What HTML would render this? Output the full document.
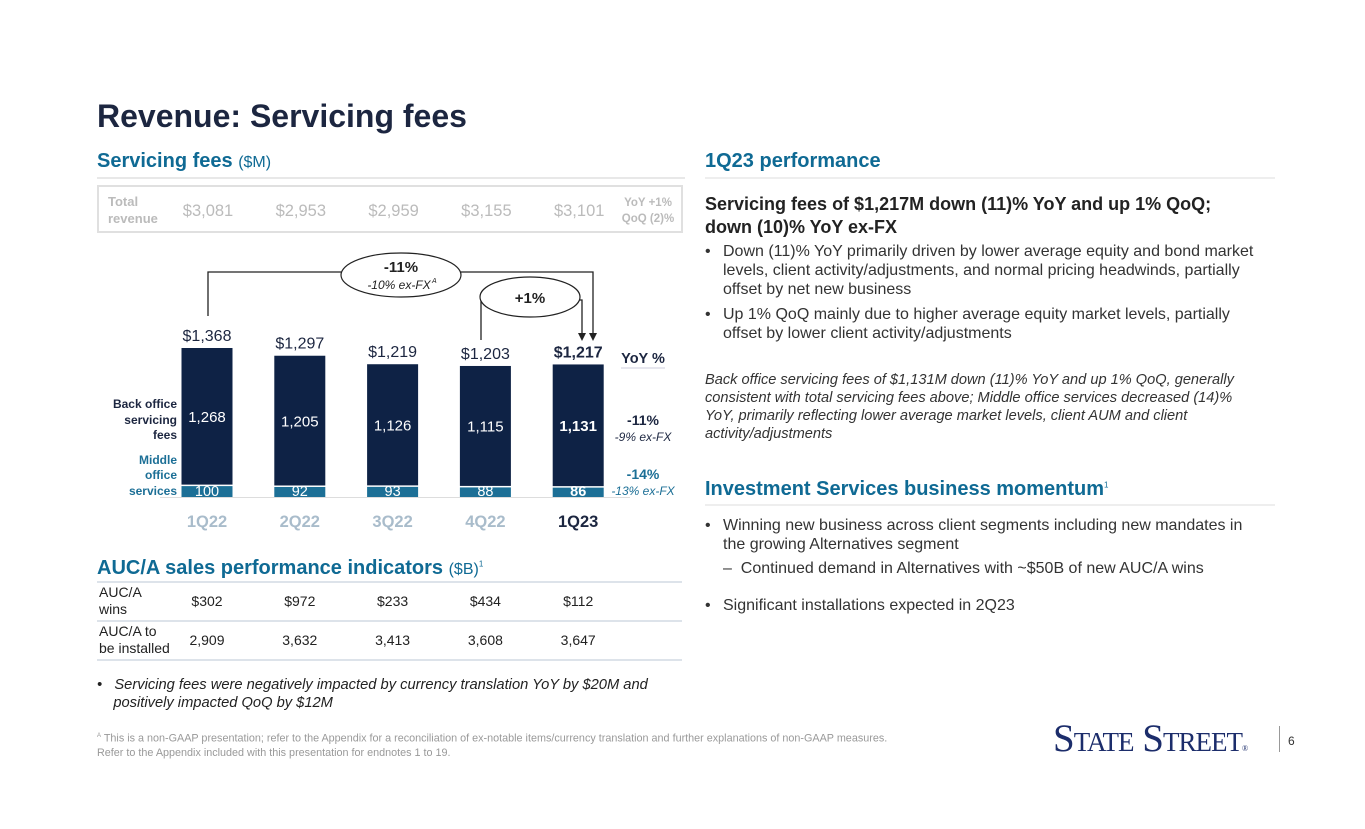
<!DOCTYPE html>
<html><head><meta charset="utf-8">
<style>
*{margin:0;padding:0;box-sizing:border-box}
body{width:1365px;height:829px;background:#fff;font-family:"Liberation Sans",sans-serif;position:relative;overflow:hidden;color:#222}
.a{position:absolute;white-space:nowrap}
.h2{color:#0f6a94;font-weight:bold;font-size:20px}
.rt{font-size:16px;color:#333;line-height:19px}
.bl{position:absolute;left:705px}
.bl span.d{position:absolute;left:0}
.bl div{padding-left:18px}
</style></head><body>
<div class="a" style="left:97px;top:98px;font-size:32px;font-weight:bold;color:#1c2640">Revenue: Servicing fees</div>

<div class="a h2" style="left:97px;top:150px">Servicing fees <span style="font-weight:normal;font-size:16px">($M)</span></div>
<div class="a" style="left:97px;top:177px;width:588px;height:2px;background:#e8e8e8"></div>

<div class="a" style="left:97px;top:185px;width:586px;height:48px;border:2px solid #e0e0e0"></div>
<div class="a" style="left:108px;top:193px;font-size:13px;font-weight:bold;color:#bbb;line-height:17px">Total<br>revenue</div>

<svg class="a" style="left:0;top:0" width="1365" height="829" id="chart"></svg>

<div class="a h2" style="left:97px;top:557px">AUC/A sales performance indicators <span style="font-weight:normal;font-size:16px">($B)</span><sup style="font-size:8px;font-weight:normal">1</sup></div>
<div class="a" style="left:97px;top:581px;width:585px;height:2px;background:#dde3ea"></div>
<div class="a" style="left:97px;top:620px;width:585px;height:2px;background:#dde3ea"></div>
<div class="a" style="left:97px;top:659px;width:585px;height:2px;background:#dde3ea"></div>
<div class="a" style="left:99px;top:584px;font-size:14px;line-height:17px;color:#222">AUC/A<br>wins</div>
<div class="a" style="left:99px;top:623px;font-size:14px;line-height:17px;color:#222">AUC/A to<br>be installed</div>

<div class="a" style="left:97px;top:676px;font-size:14.7px;font-style:italic;line-height:18px;color:#222">•&nbsp;&nbsp;&nbsp;Servicing fees were negatively impacted by currency translation YoY by $20M and<br>&nbsp;&nbsp;&nbsp;&nbsp;positively impacted QoQ by $12M</div>
<div class="a" style="left:97px;top:729px;font-size:10.8px;line-height:14px;color:#999"><sup style="font-size:6px">A</sup> This is a non-GAAP presentation; refer to the Appendix for a reconciliation of ex-notable items/currency translation and further explanations of non-GAAP measures.<br>Refer to the Appendix included with this presentation for endnotes 1 to 19.</div>

<div class="a h2" style="left:705px;top:150px">1Q23 performance</div>
<div class="a" style="left:705px;top:177px;width:570px;height:2px;background:#eee"></div>
<div class="a" style="left:705px;top:193px;font-size:18px;font-weight:bold;line-height:23px;color:#222">Servicing fees of $1,217M down (11)% YoY and up 1% QoQ;<br>down (10)% YoY ex-FX</div>
<div class="bl rt" style="top:242px"><span class="d">•</span><div>Down (11)% YoY primarily driven by lower average equity and bond market<br>levels, client activity/adjustments, and normal pricing headwinds, partially<br>offset by net new business</div></div>
<div class="bl rt" style="top:305px"><span class="d">•</span><div>Up 1% QoQ mainly due to higher average equity market levels, partially<br>offset by lower client activity/adjustments</div></div>
<div class="a" style="left:705px;top:371px;font-size:14.6px;font-style:italic;line-height:18px;color:#333">Back office servicing fees of $1,131M down (11)% YoY and up 1% QoQ, generally<br>consistent with total servicing fees above; Middle office services decreased (14)%<br>YoY, primarily reflecting lower average market levels, client AUM and client<br>activity/adjustments</div>

<div class="a h2" style="left:705px;top:478px">Investment Services business momentum<sup style="font-size:8px;font-weight:normal">1</sup></div>
<div class="a" style="left:705px;top:504px;width:570px;height:2px;background:#eee"></div>
<div class="bl rt" style="top:516px"><span class="d">•</span><div>Winning new business across client segments including new mandates in<br>the growing Alternatives segment</div></div>
<div class="a rt" style="left:723px;top:559px">–&nbsp;&nbsp;Continued demand in Alternatives with ~$50B of new AUC/A wins</div>
<div class="bl rt" style="top:596px"><span class="d">•</span><div>Significant installations expected in 2Q23</div></div>

<div class="a" style="left:1053px;top:716px;font-family:'Liberation Serif',serif;font-size:39px;color:#1c2d6b;font-variant:small-caps;letter-spacing:-1px">State Street<span style="font-size:8px">®</span></div>
<div class="a" style="left:1279px;top:726px;width:1px;height:26px;background:#999"></div>
<div class="a" style="left:1288px;top:734px;font-size:12px;color:#333">6</div>

<script>
const quarters=["1Q22","2Q22","3Q22","4Q22","1Q23"];
const totalRevenue=["$3,081","$2,953","$2,959","$3,155","$3,101"];
const backOffice=[1268,1205,1126,1115,1131];
const middleOffice=[100,92,93,88,86];
const totals=[1368,1297,1219,1203,1217];
const aucWins=["$302","$972","$233","$434","$112"];
const aucInstall=["2,909","3,632","3,413","3,608","3,647"];

const svg=document.getElementById('chart');
const NS='http://www.w3.org/2000/svg';
const x0=207,step=92.8,bw=51,base=497,k=149/1368;
const xs=i=>x0+i*step;
const ys=v=>base-v*k;
function mk(t,a,txt){const e=document.createElementNS(NS,t);for(const n in a)e.setAttribute(n,a[n]);if(txt!==undefined)e.textContent=txt;svg.appendChild(e);return e;}
function fmt(v){return v.toLocaleString('en-US');}

quarters.forEach((q,i)=>{
  const cx=xs(i),last=i===quarters.length-1;
  let e=mk('text',{x:cx+1,y:216,'text-anchor':'middle','font-size':16.5,fill:'#bbb'},totalRevenue[i]);
  
  
  const mTop=ys(middleOffice[i]);
  e=mk('rect',{x:cx-bw/2,y:mTop,width:bw,height:base-mTop,fill:'#1c6f96'});
  
  
  const tTop=ys(totals[i]);
  e=mk('rect',{x:cx-bw/2,y:tTop,width:bw,height:mTop-tTop-1.5,fill:'#0e2245'});
  
  
  e=mk('text',{x:cx,y:(tTop+mTop)/2+5,'text-anchor':'middle','font-size':15,fill:'#fff','font-weight':last?'bold':'normal'},fmt(backOffice[i]));
  
  
  e=mk('text',{x:cx,y:base-1,'text-anchor':'middle','font-size':14.5,fill:'#fff','font-weight':last?'bold':'normal'},fmt(middleOffice[i]));
  
  
  e=mk('text',{x:cx,y:tTop-7,'text-anchor':'middle','font-size':16,fill:'#1c2640','font-weight':last?'bold':'normal'},'$'+fmt(totals[i]));
  
  
  e=mk('text',{x:cx,y:527,'text-anchor':'middle','font-size':16.5,'font-weight':'bold',fill:last?'#1c2640':'#a9bccb'},q);
  
  
  e=mk('text',{x:cx,y:606,'text-anchor':'middle','font-size':14,fill:'#222'},aucWins[i]);
  
  
  e=mk('text',{x:cx,y:645,'text-anchor':'middle','font-size':14,fill:'#222'},aucInstall[i]);
  
  
});
let e=mk('line',{x1:160,y1:497.5,x2:630,y2:497.5,stroke:'#ddd','stroke-width':1});


[['Back office',408],['servicing',424],['fees',439]].forEach(r=>{e=mk('text',{x:177,y:r[1],'text-anchor':'end','font-size':12,'font-weight':'bold',fill:'#1c2640'},r[0]);});
[['Middle',464],['office',479],['services',495]].forEach(r=>{e=mk('text',{x:177,y:r[1],'text-anchor':'end','font-size':12,'font-weight':'bold',fill:'#1c6f96'},r[0]);});
const yo=[['YoY %',363,14.5,'bold','normal','#1c2640'],['-11%',425,14,'bold','normal','#1c2640'],['-9% ex-FX',441,12,'normal','italic','#1c2640'],['-14%',479,14,'bold','normal','#1c6f96'],['-13% ex-FX',495,12,'normal','italic','#1c6f96']];
yo.forEach(r=>{e=mk('text',{x:643,y:r[1],'text-anchor':'middle','font-size':r[2],'font-weight':r[3],'font-style':r[4],fill:r[5]},r[0]);});
e=mk('line',{x1:621,y1:368,x2:665,y2:368,stroke:'#ccd','stroke-width':1});


// YoY bracket
e=mk('polyline',{points:`208,316 208,272 593,272 593,334`,fill:'none',stroke:'#222','stroke-width':1.3});


e=mk('polygon',{points:`589,333 597,333 593,341`,fill:'#222'});


e=mk('ellipse',{cx:401,cy:275,rx:60,ry:22,fill:'#fff',stroke:'#222','stroke-width':1.2});


e=mk('text',{x:401,y:272,'text-anchor':'middle','font-size':15,'font-weight':'bold',fill:'#222'},'-11%');


e=mk('text',{x:399,y:289,'text-anchor':'middle','font-size':12,'font-style':'italic',fill:'#222'},'-10% ex-FX');


e=mk('text',{x:432,y:283,'font-size':7,'font-style':'italic',fill:'#222'},'A');


// QoQ bracket
e=mk('polyline',{points:`481,340 481,300 582,300 582,334`,fill:'none',stroke:'#222','stroke-width':1.3});


e=mk('polygon',{points:`578,333 586,333 582,341`,fill:'#222'});


e=mk('ellipse',{cx:530,cy:297,rx:50,ry:20,fill:'#fff',stroke:'#222','stroke-width':1.2});


e=mk('text',{x:530,y:303,'text-anchor':'middle','font-size':15,'font-weight':'bold',fill:'#222'},'+1%');


e=mk('text',{x:648,y:206,'text-anchor':'middle','font-size':11.5,'font-weight':'bold',fill:'#bbb'},'YoY +1%');


e=mk('text',{x:648,y:222,'text-anchor':'middle','font-size':11.5,'font-weight':'bold',fill:'#bbb'},'QoQ (2)%');


</script>
</body></html>
